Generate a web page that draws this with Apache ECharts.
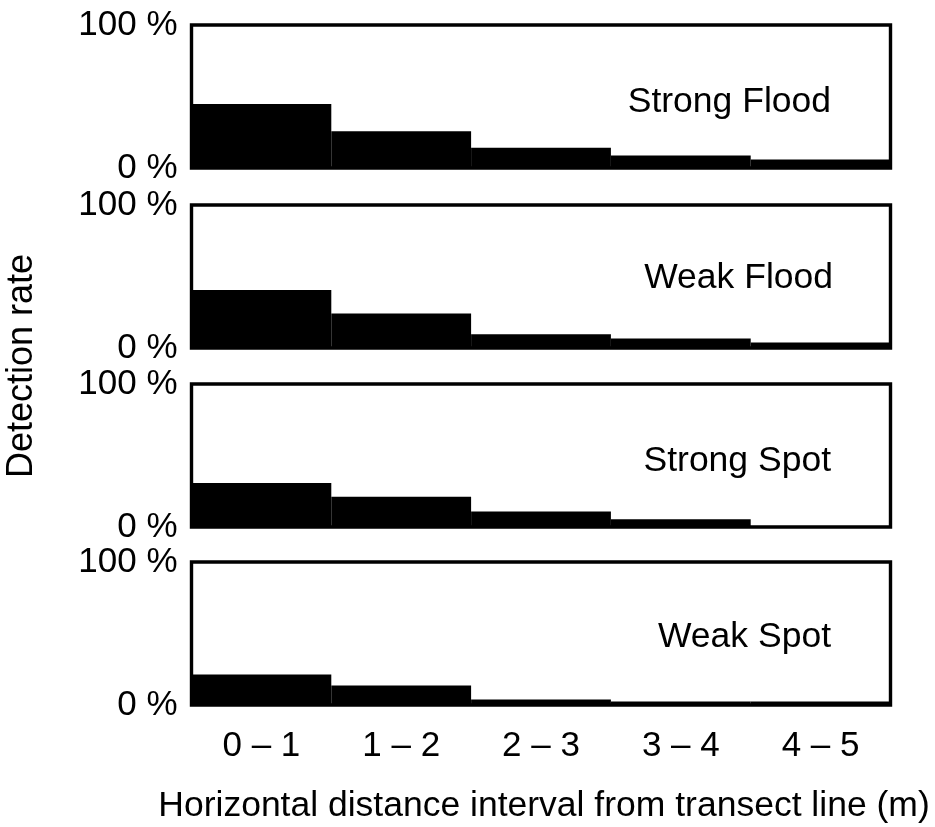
<!DOCTYPE html>
<html>
<head>
<meta charset="utf-8">
<script src="https://cdn.jsdelivr.net/npm/echarts@6/dist/echarts.min.js"></script>
<style>
html,body{margin:0;padding:0;background:#fff;}
#chart{width:935px;height:827px;}
</style>
</head>
<body>
<div id="chart"></div>
<script>
const categories = ['0 – 1', '1 – 2', '2 – 3', '3 – 4', '4 – 5'];
const panelNames = ['Strong Flood', 'Weak Flood', 'Strong Spot', 'Weak Spot'];
const strongFlood = [44.8, 25.7, 14.1, 8.7, 5.9];
const weakFlood = [40.6, 24.2, 9.7, 6.7, 3.9];
const strongSpot = [30.8, 21.2, 10.9, 5.5, 0];
const weakSpot = [21.4, 13.7, 3.9, 2.5, 2.5];
const yTicks = [0, 100];
const xTitle = 'Horizontal distance interval from transect line (m)';
const yTitle = 'Detection rate';

const seriesData = [strongFlood, weakFlood, strongSpot, weakSpot];
const FONT = "'Liberation Sans', Arial, sans-serif";
const tops = [25, 205, 384, 562];
const gridH = 143;
const gridLeft = 191.5;
const gridW = 699;

const chart = echarts.init(document.getElementById('chart'), null, {renderer: 'canvas'});

const grids = [], xAxes = [], yAxes = [], series = [], graphics = [];
tops.forEach((t, i) => {
  grids.push({
    left: gridLeft, top: t, width: gridW, height: gridH,
    show: true, borderColor: '#000', borderWidth: 3.4, backgroundColor: 'transparent',
    containLabel: false
  });
  xAxes.push({
    type: 'category', gridIndex: i, data: categories,
    axisLine: {show: false}, axisTick: {show: false},
    axisLabel: {show: i === 3, fontSize: 35, color: '#000', fontFamily: FONT, margin: 24, interval: 0},
    splitLine: {show: false}
  });
  yAxes.push({
    type: 'value', gridIndex: i, min: yTicks[0], max: yTicks[1], interval: 100,
    axisLine: {show: false}, axisTick: {show: false}, splitLine: {show: false},
    axisLabel: {show: true, formatter: '{value} %', fontSize: 35, color: '#000', fontFamily: FONT, margin: 14, showMinLabel: true, showMaxLabel: true}
  });
  series.push({
    type: 'bar', xAxisIndex: i, yAxisIndex: i, data: seriesData[i],
    barCategoryGap: '0%', barGap: '0%',
    itemStyle: {color: '#000'}, silent: true, animation: false, z: 1
  });
  graphics.push({
    type: 'text', x: [831, 833, 831, 831][i], y: t + [77, 73, 77, 75][i],
    style: {text: panelNames[i], font: '35.5px ' + FONT, fill: '#000', textAlign: 'right', textVerticalAlign: 'middle'}
  });
});

graphics.push({
  type: 'text', x: 22, y: 366, rotation: Math.PI / 2,
  style: {text: yTitle, font: '36px ' + FONT, fill: '#000', textAlign: 'center', textVerticalAlign: 'middle'}
});
graphics.push({
  type: 'text', x: 544, y: 806,
  style: {text: xTitle, font: '35.5px ' + FONT, fill: '#000', textAlign: 'center', textVerticalAlign: 'middle'}
});

chart.setOption({
  backgroundColor: '#fff',
  animation: false,
  grid: grids,
  xAxis: xAxes,
  yAxis: yAxes,
  series: series,
  graphic: graphics
});
</script>
</body>
</html>
